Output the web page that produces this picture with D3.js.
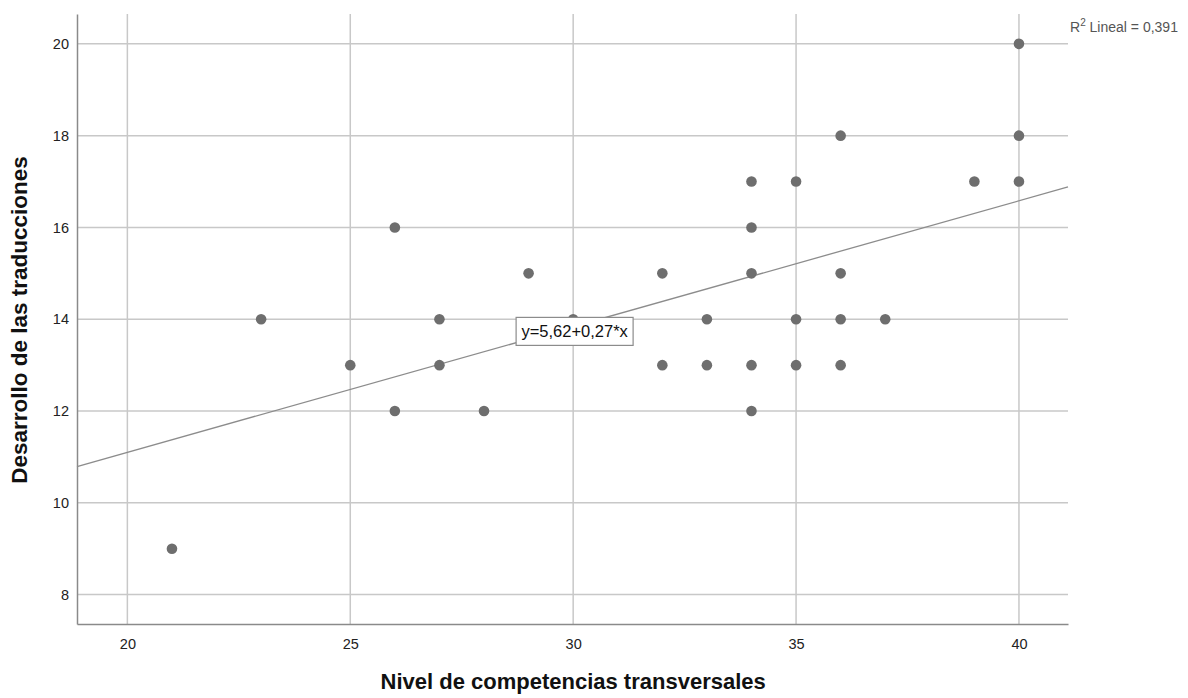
<!DOCTYPE html>
<html>
<head>
<meta charset="utf-8">
<script src="https://cdn.jsdelivr.net/npm/d3@7"></script>
<style>
    body { margin: 0; background: #fff; }
    svg { font-family: 'Liberation Sans', Arial, sans-serif; }
</style>
</head>
<body>
<div id="chart"></div>
<script>
// observed points (x = competencias transversales, y = traducciones)
const xValues = [21, 23, 25, 26, 26, 27, 27, 28, 29, 30, 32, 32, 33, 33, 34, 34, 34, 34, 34, 35, 35, 35, 36, 36, 36, 36, 37, 39, 40, 40, 40];
const yValues = [9, 14, 13, 16, 12, 14, 13, 12, 15, 14, 15, 13, 14, 13, 17, 16, 15, 13, 12, 17, 14, 13, 18, 15, 14, 13, 14, 17, 20, 18, 17];

const xTicks = [20, 25, 30, 35, 40];
const yTicks = [8, 10, 12, 14, 16, 18, 20];

const fitIntercept = 5.62;
const fitSlope = 0.274;
const fitLabel = 'y=5,62+0,27*x';
const r2Label = '0,391';

const xTitle = 'Nivel de competencias transversales';
const yTitle = 'Desarrollo de las traducciones';

const points = xValues.map((x, i) => ({x: x, y: yValues[i]}));

const width = 1188, height = 698;
const margin = {top: 14, right: 120, bottom: 74, left: 77};
const innerW = width - margin.left - margin.right;
const innerH = height - margin.top - margin.bottom;

const xScale = d3.scaleLinear().domain([18.87, 41.1]).range([0, innerW]);
const yScale = d3.scaleLinear().domain([7.36, 20.65]).range([innerH, 0]);

const svg = d3.select('#chart').append('svg')
    .attr('width', width)
    .attr('height', height);

const chart = svg.append('g')
    .attr('transform', `translate(${margin.left},${margin.top})`);

// grid
chart.append('g')
    .selectAll('line')
    .data(xTicks)
    .join('line')
    .attr('x1', d => xScale(d))
    .attr('x2', d => xScale(d))
    .attr('y1', 0)
    .attr('y2', innerH)
    .attr('stroke', '#c8c8c8')
    .attr('stroke-width', 1.5);

chart.append('g')
    .selectAll('line')
    .data(yTicks)
    .join('line')
    .attr('x1', 0)
    .attr('x2', innerW)
    .attr('y1', d => yScale(d))
    .attr('y2', d => yScale(d))
    .attr('stroke', '#c8c8c8')
    .attr('stroke-width', 1.5);

// axes
const xAxis = d3.axisBottom(xScale).tickValues(xTicks).tickSize(0).tickPadding(15);
const yAxis = d3.axisLeft(yScale).tickValues(yTicks).tickSize(0).tickPadding(8);

const xAxisG = chart.append('g')
    .attr('transform', `translate(0,${innerH})`)
    .call(xAxis);
const yAxisG = chart.append('g').call(yAxis);

[xAxisG, yAxisG].forEach(g => {
    g.select('.domain').attr('stroke', '#8a8a8a').attr('stroke-width', 1.5);
    g.selectAll('text')
        .style('font-size', '14.5px')
        .style('font-family', "'Liberation Sans', Arial, sans-serif")
        .attr('fill', '#222');
});

// fit line
const fit = d3.line()
    .x(d => xScale(d))
    .y(d => yScale(fitIntercept + fitSlope * d));

chart.append('path')
    .datum(xScale.domain())
    .attr('d', fit)
    .attr('fill', 'none')
    .attr('stroke', '#8c8c8c')
    .attr('stroke-width', 1.3);

// points
chart.append('g')
    .selectAll('circle')
    .data(points)
    .join('circle')
    .attr('cx', d => xScale(d.x))
    .attr('cy', d => yScale(d.y))
    .attr('r', 5.3)
    .attr('fill', '#6e6e6e');

// equation label
const eqG = chart.append('g')
    .attr('transform', `translate(${xScale(28.72)},${yScale(14.04)})`);
eqG.append('rect')
    .attr('width', 117)
    .attr('height', 28)
    .attr('fill', '#fff')
    .attr('stroke', '#8c8c8c')
    .attr('stroke-width', 1.2);
eqG.append('text')
    .attr('x', 58.5)
    .attr('y', 20)
    .attr('text-anchor', 'middle')
    .style('font-size', '16.5px')
    .attr('fill', '#111')
    .text(fitLabel);

// R2 label
const r2 = svg.append('text')
    .attr('x', 1070)
    .attr('y', 32)
    .style('font-size', '14px')
    .attr('fill', '#555');
r2.append('tspan').text('R');
r2.append('tspan').attr('dy', -6).style('font-size', '10px').text('2');
r2.append('tspan').attr('dy', 6).text(' Lineal = ' + r2Label);

// axis titles
svg.append('text')
    .attr('x', margin.left + xScale(30))
    .attr('y', 689)
    .attr('text-anchor', 'middle')
    .style('font-size', '22px')
    .style('font-weight', 'bold')
    .attr('fill', '#111')
    .text(xTitle);

svg.append('text')
    .attr('transform', `translate(27,${320}) rotate(-90)`)
    .attr('text-anchor', 'middle')
    .style('font-size', '22.5px')
    .style('font-weight', 'bold')
    .attr('fill', '#111')
    .text(yTitle);
</script>
</body>
</html>
